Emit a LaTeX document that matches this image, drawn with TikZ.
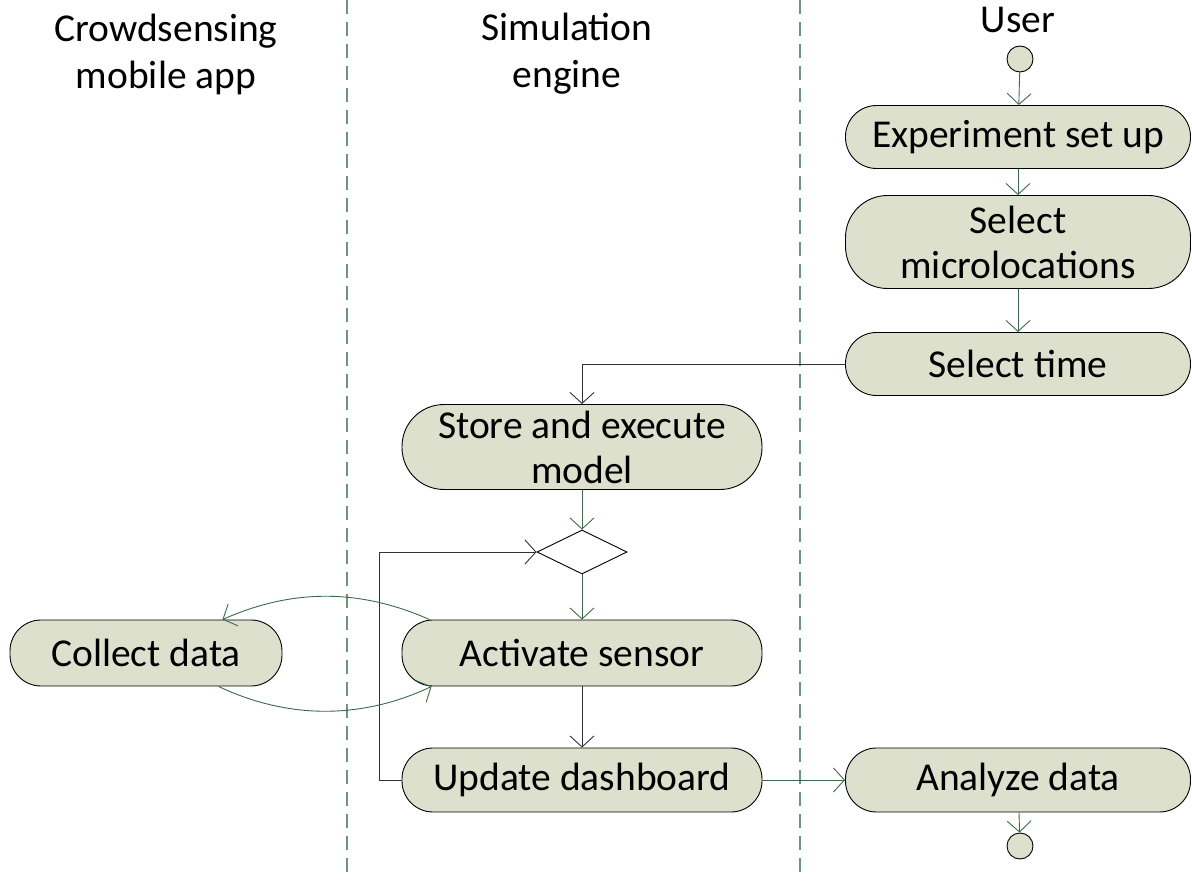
\documentclass[tikz,border=0pt]{standalone}
\usepackage{fontspec}
\setmainfont{Carlito}
\usetikzlibrary{arrows.meta,shapes.geometric}
\definecolor{fillc}{RGB}{221,224,204}
\definecolor{linec}{RGB}{62,105,78}
\definecolor{lanec}{RGB}{110,150,125}
\begin{document}
\begin{tikzpicture}[x=1pt,y=-1pt,
  font=\fontsize{39.5}{45}\selectfont,
  act/.style={draw=black,line width=0.9pt,fill=fillc,rectangle,rounded corners=31pt,minimum width=345pt,minimum height=63pt,inner sep=0pt,align=center},
  act2/.style={act,rounded corners=42pt},
  tipv/.style={-{Straight Barb[length=11pt,width=24pt]}},
  gline/.style={draw=linec,line width=0.9pt,tipv},
  kline/.style={draw=black!80,line width=0.9pt,tipv},
  lane/.style={draw=lanec,line width=1.1pt,dash pattern=on 14pt off 8pt},
  dot/.style={circle,draw=black,line width=0.9pt,fill=fillc,minimum size=26pt,inner sep=0pt},
  dec/.style={diamond,draw=black,line width=0.9pt,fill=white,minimum width=90pt,minimum height=44pt,inner sep=0pt,aspect=2},
  hdr/.style={align=center,inner sep=0pt,font=\fontsize{39.5}{47}\selectfont}
]
\useasboundingbox (0,0) rectangle (1192,885);
% lanes
\coordinate (l1t) at (347,0); \coordinate (l1b) at (347,873);
\coordinate (l2t) at (800,0); \coordinate (l2b) at (800,873);
\draw[lane] (l1t) -- (l1b);
\draw[lane] (l2t) -- (l2b);
% headers
\node[hdr] (h1) at (166,54) {Crowdsensing\\mobile app};
\node[hdr] (h2) at (567,54) {Simulation\\engine};
\node[hdr] (h3) at (1018,20) {User};
% nodes
\node[dot] (start) at (1020,59) {};
\node[act] (exp) at (1018,137) {Experiment set up};
\node[act2,minimum height=93pt] (sel) at (1018,242) {Select\\microlocations};
\node[act] (time) at (1018,364) {Select time};
\node[act2,minimum width=360pt,minimum height=85pt] (store) at (582,447) {Store and execute\\model};
\node[dec] (dec) at (582,552) {};
\node[act,minimum width=360pt,minimum height=66pt] (actv) at (582,653) {Activate sensor};
\node[act,minimum width=272pt,minimum height=66pt] (col) at (146,653) {Collect data};
\node[act,minimum width=360pt,minimum height=64pt] (upd) at (582,780) {Update dashboard};
\node[act,minimum height=64pt] (ana) at (1018,780) {Analyze data};
\node[dot] (end) at (1020,846) {};
% connectors
\draw[gline] (start) -- (exp);
\draw[gline] (exp) -- (sel);
\draw[gline] (sel) -- (time);
\draw[kline] (time.west) -| (store.north);
\draw[gline] (store) -- (dec);
\draw[gline] (dec) -- (actv);
\draw[kline] (actv) -- (upd);
\draw[kline] (upd.west) -- ++(-22,0) |- (dec.west);
\draw[gline] (upd) -- (ana);
\draw[gline] (ana) -- (end);
\draw[gline] ([xshift=28pt]actv.north west) .. controls +(-70,-31) and +(70,-31) .. ([xshift=-60pt]col.north east);
\draw[gline] ([xshift=-64pt]col.south east) .. controls +(70,33) and +(-70,33) .. ([xshift=30pt]actv.south west);
\end{tikzpicture}
\end{document}
